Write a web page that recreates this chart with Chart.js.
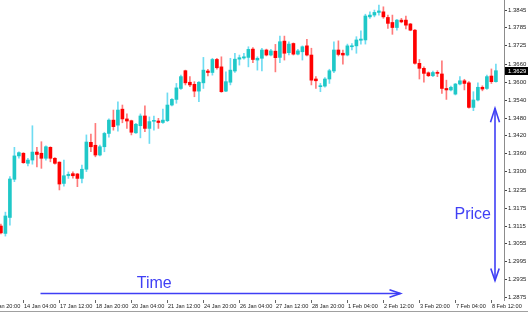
<!DOCTYPE html>
<html>
<head>
<meta charset="utf-8">
<script src="https://cdn.jsdelivr.net/npm/chart.js@4.4.1/dist/chart.umd.min.js"></script>
<style>
  html, body { margin: 0; padding: 0; background: #fff; }
  #wrap { position: relative; width: 528px; height: 313px; }
</style>
</head>
<body>
<div id="wrap"><canvas id="priceChart"></canvas></div>
<script>
// H4 candles, oldest first
const opens = [
  1.3115, 1.3090, 1.3144, 1.3273, 1.3352, 1.3361, 1.3327, 1.3338, 1.3365, 1.3361,
  1.3344, 1.3381, 1.3344, 1.3331, 1.3259, 1.3285, 1.3292, 1.3291, 1.3276, 1.3307,
  1.3398, 1.3388, 1.3355, 1.3383, 1.3428, 1.3473, 1.3456, 1.3510, 1.3477, 1.3471,
  1.3430, 1.3454, 1.3487, 1.3445, 1.3469, 1.3470, 1.3465, 1.3471, 1.3524, 1.3543,
  1.3580, 1.3640, 1.3601, 1.3594, 1.3571, 1.3599, 1.3639, 1.3634, 1.3678, 1.3653,
  1.3571, 1.3601, 1.3639, 1.3679, 1.3683, 1.3685, 1.3713, 1.3676, 1.3682, 1.3710,
  1.3693, 1.3706, 1.3685, 1.3740, 1.3701, 1.3732, 1.3696, 1.3704, 1.3724, 1.3693,
  1.3612, 1.3586, 1.3588, 1.3612, 1.3639, 1.3710, 1.3699, 1.3693, 1.3721, 1.3724,
  1.3743, 1.3744, 1.3822, 1.3828, 1.3837, 1.3839, 1.3820, 1.3803, 1.3786, 1.3811,
  1.3811, 1.3798, 1.3777, 1.3665, 1.3648, 1.3633, 1.3623, 1.3634, 1.3629, 1.3580,
  1.3575, 1.3561, 1.3595, 1.3606, 1.3599, 1.3516, 1.3541, 1.3584, 1.3580, 1.3622,
  1.3603
];
const highs = [
  1.3122, 1.3162, 1.3282, 1.3381, 1.3366, 1.3363, 1.3344, 1.3454, 1.3381, 1.3400,
  1.3386, 1.3383, 1.3346, 1.3332, 1.3338, 1.3298, 1.3298, 1.3293, 1.3321, 1.3423,
  1.3426, 1.3462, 1.3389, 1.3432, 1.3477, 1.3507, 1.3535, 1.3524, 1.3494, 1.3473,
  1.3462, 1.3494, 1.3521, 1.3484, 1.3487, 1.3479, 1.3510, 1.3565, 1.3546, 1.3597,
  1.3625, 1.3642, 1.3620, 1.3603, 1.3603, 1.3685, 1.3645, 1.3682, 1.3682, 1.3687,
  1.3636, 1.3682, 1.3699, 1.3693, 1.3699, 1.3721, 1.3718, 1.3687, 1.3716, 1.3713,
  1.3712, 1.3729, 1.3757, 1.3757, 1.3738, 1.3734, 1.3712, 1.3724, 1.3746, 1.3716,
  1.3620, 1.3597, 1.3617, 1.3645, 1.3738, 1.3741, 1.3710, 1.3730, 1.3732, 1.3755,
  1.3775, 1.3831, 1.3839, 1.3845, 1.3862, 1.3856, 1.3828, 1.3828, 1.3814, 1.3817,
  1.3825, 1.3800, 1.3780, 1.3678, 1.3653, 1.3636, 1.3639, 1.3640, 1.3673, 1.3608,
  1.3588, 1.3597, 1.3620, 1.3611, 1.3603, 1.3569, 1.3599, 1.3589, 1.3625, 1.3646,
  1.3662
];
const lows = [
  1.3088, 1.3081, 1.3118, 1.3265, 1.3344, 1.3327, 1.3318, 1.3324, 1.3315, 1.3310,
  1.3338, 1.3332, 1.3324, 1.3237, 1.3250, 1.3276, 1.3277, 1.3248, 1.3261, 1.3299,
  1.3366, 1.3349, 1.3352, 1.3366, 1.3415, 1.3439, 1.3436, 1.3464, 1.3445, 1.3423,
  1.3428, 1.3413, 1.3434, 1.3394, 1.3439, 1.3445, 1.3462, 1.3468, 1.3521, 1.3530,
  1.3577, 1.3592, 1.3586, 1.3552, 1.3535, 1.3580, 1.3622, 1.3625, 1.3645, 1.3567,
  1.3569, 1.3592, 1.3634, 1.3659, 1.3679, 1.3653, 1.3667, 1.3642, 1.3639, 1.3690,
  1.3690, 1.3636, 1.3667, 1.3676, 1.3693, 1.3693, 1.3693, 1.3676, 1.3690, 1.3592,
  1.3580, 1.3569, 1.3584, 1.3597, 1.3633, 1.3690, 1.3662, 1.3690, 1.3710, 1.3699,
  1.3730, 1.3730, 1.3817, 1.3822, 1.3828, 1.3817, 1.3783, 1.3763, 1.3777, 1.3802,
  1.3781, 1.3775, 1.3662, 1.3612, 1.3601, 1.3620, 1.3620, 1.3620, 1.3563, 1.3543,
  1.3572, 1.3558, 1.3592, 1.3575, 1.3513, 1.3505, 1.3538, 1.3572, 1.3577, 1.3597,
  1.3601
];
const closes = [
  1.3092, 1.3149, 1.3274, 1.3352, 1.3363, 1.3329, 1.3338, 1.3365, 1.3357, 1.3344,
  1.3383, 1.3344, 1.3327, 1.3257, 1.3285, 1.3290, 1.3285, 1.3276, 1.3307, 1.3399,
  1.3383, 1.3355, 1.3383, 1.3428, 1.3473, 1.3451, 1.3507, 1.3477, 1.3470, 1.3432,
  1.3459, 1.3487, 1.3445, 1.3468, 1.3471, 1.3465, 1.3473, 1.3524, 1.3543, 1.3582,
  1.3620, 1.3599, 1.3592, 1.3571, 1.3601, 1.3642, 1.3634, 1.3678, 1.3650, 1.3569,
  1.3603, 1.3642, 1.3679, 1.3684, 1.3687, 1.3712, 1.3678, 1.3682, 1.3710, 1.3693,
  1.3707, 1.3684, 1.3738, 1.3699, 1.3730, 1.3696, 1.3707, 1.3721, 1.3693, 1.3608,
  1.3606, 1.3588, 1.3612, 1.3640, 1.3710, 1.3695, 1.3693, 1.3724, 1.3724, 1.3744,
  1.3747, 1.3825, 1.3828, 1.3837, 1.3842, 1.3822, 1.3800, 1.3786, 1.3811, 1.3805,
  1.3794, 1.3777, 1.3665, 1.3648, 1.3631, 1.3623, 1.3634, 1.3631, 1.3580, 1.3575,
  1.3584, 1.3595, 1.3606, 1.3597, 1.3516, 1.3541, 1.3584, 1.3578, 1.3620, 1.3603,
  1.3640
];

// time axis: one label every 8 bars, first one sits 3 bars before the first candle
const timeLabels = [
  "13 Jan 20:00", "14 Jan 04:00", "17 Jan 12:00", "18 Jan 20:00", "20 Jan 04:00",
  "21 Jan 12:00", "24 Jan 20:00", "26 Jan 04:00", "27 Jan 12:00", "28 Jan 20:00",
  "1 Feb 04:00", "2 Feb 12:00", "3 Feb 20:00", "7 Feb 04:00", "8 Feb 12:00"
];
const firstLabelBar = -3;
const barsPerLabel = 8;

const priceTicks = [
  1.3845, 1.3785, 1.3725, 1.3660, 1.3600, 1.3540, 1.3480, 1.3420, 1.3360,
  1.3300, 1.3235, 1.3175, 1.3115, 1.3055, 1.2995, 1.2935, 1.2875
];
const lastPriceText = "1.3629";

(() => {
  const UP_BODY = "#1fc8c8";
  const DOWN_BODY = "#ff0000";
  const UP_WICK = "#6fdcf2";
  const DOWN_WICK = "#ff7a7a";
  const NOTE_BLUE = "#3f3ff5";
  const SMALL_FONT = "'Liberation Sans', Arial, sans-serif";

  // annotation anchors, in bar index / price units
  const timeArrow = { from: 8.8, to: 88.8, price: 1.2887, textBar: 30.2, textPrice: 1.2905 };
  const priceArrow = { bar: 109.8, top: 1.3513, bottom: 1.2931, textPrice: 1.3139 };

  function isUp(i) {
    return closes[i] >= opens[i];
  }

  function buildWicks() {
    return highs.map((h, i) => ({ x: i, y: [lows[i], h] }));
  }

  function buildBodies() {
    return opens.map((o, i) => ({ x: i, y: [Math.min(o, closes[i]), Math.max(o, closes[i])] }));
  }

  function arrowHead(ctx, tipX, tipY, dx, dy, back, half) {
    ctx.beginPath();
    ctx.moveTo(tipX - dx * back - dy * half, tipY - dy * back + dx * half);
    ctx.lineTo(tipX, tipY);
    ctx.lineTo(tipX - dx * back + dy * half, tipY - dy * back - dx * half);
    ctx.stroke();
  }

  const overlay = {
    id: "overlay",
    afterDraw(chart) {
      const { ctx, scales: { x, y } } = chart;
      ctx.save();

      // time labels, left aligned on their tick like the terminal does
      ctx.fillStyle = "#222";
      ctx.font = "5.6px " + SMALL_FONT;
      ctx.textBaseline = "middle";
      ctx.textAlign = "left";
      timeLabels.forEach((label, k) => {
        const px = x.getPixelForValue(firstLabelBar + k * barsPerLabel);
        ctx.fillText(label, px + 0.5, x.top + 6);
      });

      // current price tag on the axis
      const lastY = Math.round(y.getPixelForValue(closes[closes.length - 1]));
      ctx.fillStyle = "#000";
      ctx.fillRect(x.right + 1, lastY - 4, chart.width - x.right - 1, 8);
      ctx.fillStyle = "#fff";
      ctx.font = "6px " + SMALL_FONT;
      ctx.fillText(lastPriceText, x.right + 4, lastY);

      // window bottom edge
      ctx.strokeStyle = "#a0a0a0";
      ctx.lineWidth = 1;
      ctx.beginPath();
      ctx.moveTo(0, chart.height - 1.5);
      ctx.lineTo(chart.width, chart.height - 1.5);
      ctx.stroke();

      // Time arrow
      ctx.strokeStyle = NOTE_BLUE;
      ctx.lineWidth = 1.6;
      const ty = y.getPixelForValue(timeArrow.price);
      const tx0 = x.getPixelForValue(timeArrow.from);
      const tx1 = x.getPixelForValue(timeArrow.to);
      ctx.beginPath();
      ctx.moveTo(tx0, ty);
      ctx.lineTo(tx1, ty);
      ctx.stroke();
      arrowHead(ctx, tx1, ty, 1, 0, 11, 3.8);

      // Price double arrow
      const px = x.getPixelForValue(priceArrow.bar);
      const py0 = y.getPixelForValue(priceArrow.top);
      const py1 = y.getPixelForValue(priceArrow.bottom);
      ctx.beginPath();
      ctx.moveTo(px, py0);
      ctx.lineTo(px, py1);
      ctx.stroke();
      arrowHead(ctx, px, py0, 0, -1, 14, 4.5);
      arrowHead(ctx, px, py1, 0, 1, 12, 4.2);

      ctx.fillStyle = NOTE_BLUE;
      ctx.font = "16px 'Liberation Sans', Arial, sans-serif";
      ctx.textBaseline = "alphabetic";
      ctx.textAlign = "left";
      ctx.fillText("Time", x.getPixelForValue(timeArrow.textBar), y.getPixelForValue(timeArrow.textPrice));
      ctx.textAlign = "right";
      ctx.fillText("Price", px - 4, y.getPixelForValue(priceArrow.textPrice));

      ctx.restore();
    }
  };

  function createCandleChart(canvasId) {
    const canvas = document.getElementById(canvasId);
    if (!canvas) return null;

    const ctx = canvas.getContext("2d");
    if (!ctx) return null;

    const idx = opens.map((_, i) => i);

    return new Chart(ctx, {
      type: "bar",
      data: {
        datasets: [
          {
            label: "Bodies",
            data: buildBodies(),
            backgroundColor: idx.map(i => (isUp(i) ? UP_BODY : DOWN_BODY)),
            borderWidth: 0,
            barThickness: 3,
            minBarLength: 1,
            grouped: false,
            order: 1
          },
          {
            label: "Wicks",
            data: buildWicks(),
            backgroundColor: idx.map(i => (isUp(i) ? UP_WICK : DOWN_WICK)),
            borderWidth: 0,
            barThickness: 1,
            grouped: false,
            order: 2
          }
        ]
      },
      options: {
        responsive: true,
        maintainAspectRatio: false,
        animation: false,
        layout: { padding: 0 },
        plugins: {
          legend: { display: false },
          tooltip: { enabled: false }
        },
        scales: {
          x: {
            type: "linear",
            offset: false,
            min: -0.2,
            max: opens.length + 0.8,
            afterBuildTicks: scale => {
              scale.ticks = timeLabels.map((_, k) => ({ value: firstLabelBar + k * barsPerLabel }));
            },
            afterFit: scale => {
              scale.height = 13;
            },
            grid: { drawOnChartArea: false, drawTicks: true, tickLength: 3, color: "#666", offset: false },
            border: { display: false },
            ticks: { display: false, autoSkip: false }
          },
          y: {
            position: "right",
            min: 1.2865,
            max: 1.3879,
            afterBuildTicks: scale => {
              scale.ticks = priceTicks.map(v => ({ value: v }));
            },
            afterFit: scale => {
              scale.width = 24;
              scale.paddingTop = 0;
              scale.paddingBottom = 0;
            },
            grid: { drawOnChartArea: false, drawTicks: true, tickLength: 3, color: "#444" },
            border: { display: true, color: "#8c8c8c", width: 1 },
            ticks: {
              autoSkip: false,
              padding: 1,
              color: "#222",
              font: { family: SMALL_FONT, size: 6 },
              callback: v => Number(v).toFixed(4)
            }
          }
        }
      },
      plugins: [overlay]
    });
  }

  createCandleChart("priceChart");
})();
</script>
</body>
</html>
